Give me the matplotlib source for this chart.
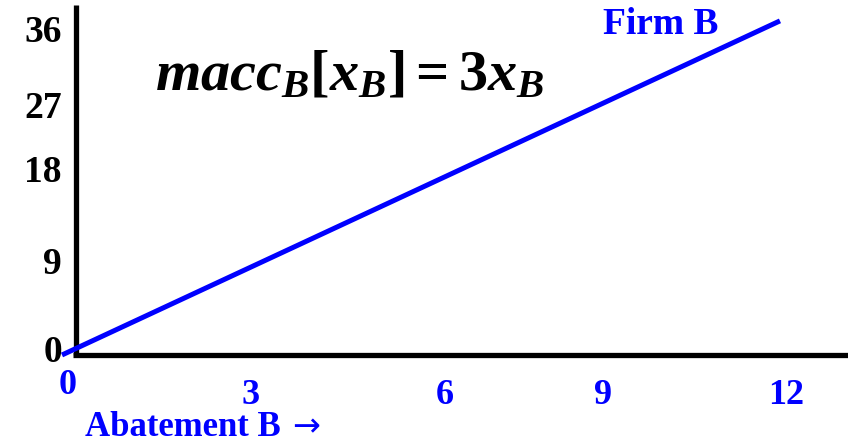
import matplotlib
import numpy as np

matplotlib.use("Agg", force=True)
import matplotlib.pyplot as plt

# marginal abatement cost curve for firm B: macc = 3 x
abatement = [0, 12]
macc = [0, 36]

x_tick_values = ["0", "3", "6", "9", "12"]
x_tick_pos = [0.1, 3.15, 6.4, 9.05, 12.1]
y_tick_values = ["36", "27", "18", "9", "0"]
y_tick_pos = [34.8, 26.6, 19.7, 9.7, 0.3]

BLUE = "#0000ff"

plt.rcParams["font.family"] = ["Liberation Serif", "DejaVu Serif"]
plt.rcParams["font.weight"] = "bold"
plt.rcParams["mathtext.fontset"] = "custom"
plt.rcParams["mathtext.rm"] = "Liberation Serif:bold"
plt.rcParams["mathtext.it"] = "Liberation Serif:bold:italic"
plt.rcParams["mathtext.bf"] = "Liberation Serif:bold"

fig = plt.figure(figsize=(8.48, 4.45), dpi=100)
ax = fig.add_axes([0, 0, 1, 1])
ax.set_xlim(-1.036, 13.137)
ax.set_ylim(-9.70, 38.25)
ax.axis("off")

# axes drawn by hand
ax.plot([0.234, 0.234], [0, 37.7], color="black", linewidth=3.8, solid_capstyle="butt", zorder=2)
ax.plot([0.18, 13.2], [0, 0], color="black", linewidth=3.8, solid_capstyle="butt", zorder=2)

ax.plot(abatement, macc, color=BLUE, linewidth=3.6, solid_capstyle="butt", zorder=3)

for label, pos in zip(y_tick_values, y_tick_pos):
    ax.text(0.0, pos, label, ha="right", va="center", fontsize=27, fontweight="bold", color="black")
for label, pos in zip(x_tick_values, x_tick_pos):
    ypos = -3.3 if label == "0" else -4.4
    ax.text(pos, ypos, label, ha="center", va="center", fontsize=26, fontweight="bold", color=BLUE)

ax.text(0.38, -7.85, "Abatement B", ha="left", va="center", fontsize=25,
        fontweight="bold", color=BLUE)
ax.text(3.85, -7.75, "\u2192", ha="left", va="center", fontsize=24,
        fontweight="normal", color=BLUE, family="DejaVu Sans")
ax.text(10.0, 35.6, "Firm B", ha="center", va="center", fontsize=27, fontweight="bold", color=BLUE)
ax.text(4.8, 30.0, r"$macc_{B}[x_{B}]=3x_{B}$", ha="center", va="center", fontsize=42, color="black")

fig.savefig("out.png", dpi=100)
